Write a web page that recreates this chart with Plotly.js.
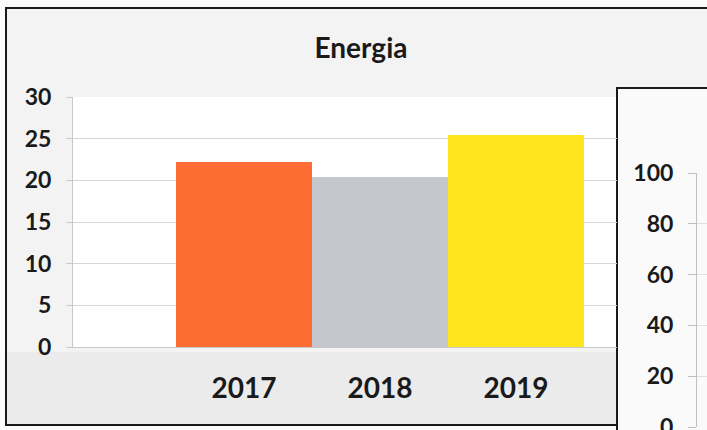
<!DOCTYPE html>
<html><head><meta charset="utf-8">
<script src="https://cdn.plot.ly/plotly-3.0.1.min.js"></script>
<style>html,body{margin:0;padding:0;background:#fff}#c{width:707px;height:430px}</style>
</head><body><div id="c"></div>
<script>
const categories = ['2017', '2018', '2019'];
const values = [22.2, 20.4, 25.4];
const barColors = ['#fd6c33', '#c4c7cb', '#ffe41e'];
const yTicks = [0, 5, 10, 15, 20, 25, 30];
const secondTicks = [0, 20, 40, 60, 80, 100];

const W = 707, H = 430;
const px = x => x / W, py = y => 1 - y / H;
const FAM = 'Lato, "Open Sans", sans-serif';
const tickFont = {family: FAM, size: 23, color: '#1a1a1a', weight: 700};

const data = [{
  type: 'bar', x: categories, y: values,
  marker: {color: barColors, line: {width: 0}},
  xaxis: 'x', yaxis: 'y', hoverinfo: 'skip'
}, {
  type: 'scatter', mode: 'markers', x: [0.5], y: [null],
  xaxis: 'x2', yaxis: 'y2', showlegend: false, hoverinfo: 'skip'
}];

const layout = {
  width: W, height: H,
  margin: {l: 0, r: 0, t: 0, b: 0},
  paper_bgcolor: '#fbfbfb', plot_bgcolor: 'rgba(0,0,0,0)',
  showlegend: false, bargap: 0,
  title: {text: 'Energia', x: px(361), xanchor: 'center', y: py(48), yanchor: 'middle',
          font: {family: FAM, size: 28, color: '#1a1a1a', weight: 700}},
  xaxis: {type: 'category', domain: [px(73), px(617)], range: [-1.257, 2.743],
          showgrid: false, showline: true, linecolor: '#c8c8c8', linewidth: 1,
          ticks: '', tickfont: Object.assign({}, tickFont, {size: 28}), ticklabelstandoff: 16,
          fixedrange: true},
  yaxis: {domain: [py(347), py(97)], range: [0, 30], tickvals: yTicks,
          showgrid: true, gridcolor: '#d6d6d6', gridwidth: 1, zeroline: false,
          showline: true, linecolor: '#c8c8c8', linewidth: 1,
          ticks: 'outside', ticklen: 6, tickcolor: '#c8c8c8',
          tickfont: tickFont, ticklabelstandoff: 10, fixedrange: true},
  xaxis2: {domain: [px(697), 1], range: [0, 1], anchor: 'y2', visible: false, fixedrange: true},
  yaxis2: {domain: [py(427), py(173)], range: [0, 100], tickvals: secondTicks, anchor: 'x2',
           showgrid: true, gridcolor: '#e0e0e0', zeroline: false,
           showline: true, linecolor: '#c0c0c0', linewidth: 1,
           ticks: 'outside', ticklen: 8, tickcolor: '#c0c0c0', ticklabeloverflow: 'allow',
           tickfont: tickFont, ticklabelstandoff: 10, fixedrange: true},
  shapes: [
    {type: 'rect', xref: 'paper', yref: 'paper', x0: px(6), x1: px(740), y0: py(425), y1: py(8),
     fillcolor: '#f3f3f3', line: {color: '#1a1a1a', width: 2}, layer: 'below'},
    {type: 'rect', xref: 'paper', yref: 'paper', x0: px(7), x1: px(616), y0: py(424), y1: py(352),
     fillcolor: '#ebebeb', line: {width: 0}, layer: 'below'},
    {type: 'rect', xref: 'paper', yref: 'paper', x0: px(73), x1: px(617), y0: py(347), y1: py(97),
     fillcolor: '#ffffff', line: {width: 0}, layer: 'below'},
    {type: 'rect', xref: 'paper', yref: 'paper', x0: px(617), x1: px(740), y0: py(460), y1: py(88),
     fillcolor: '#fafafa', line: {color: '#1a1a1a', width: 2}, layer: 'below'}
  ]
};

Plotly.newPlot('c', data, layout, {staticPlot: true});
</script></body></html>
